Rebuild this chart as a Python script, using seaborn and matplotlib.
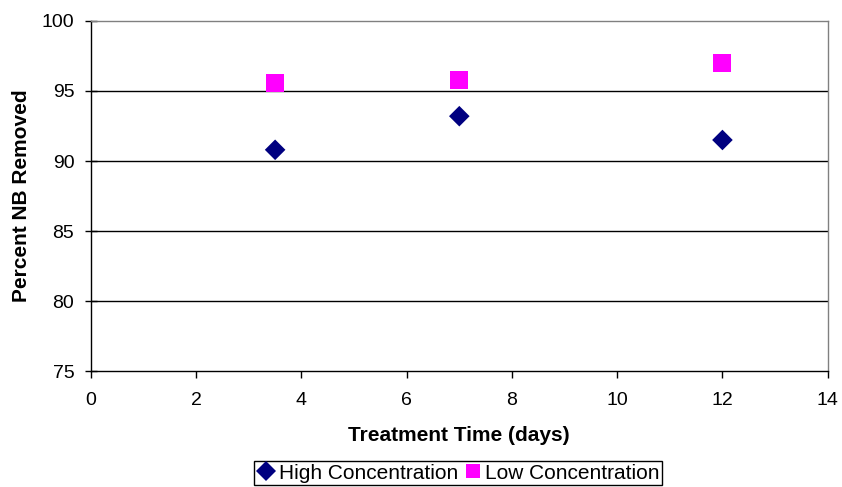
import pandas as pd
import seaborn as sns
import matplotlib.pyplot as plt

sns.set_style("white")
plt.rcParams["font.family"] = ["Liberation Sans", "DejaVu Sans"]
plt.rcParams["text.color"] = "black"
plt.rcParams["axes.labelcolor"] = "black"
plt.rcParams["xtick.color"] = "black"
plt.rcParams["ytick.color"] = "black"

# data
days = [3.5, 7, 12]
high_conc = [90.8, 93.2, 91.5]
low_conc = [95.6, 95.8, 97.0]

df = pd.DataFrame({
    "days": days * 2,
    "removed": high_conc + low_conc,
    "series": ["High Concentration"] * 3 + ["Low Concentration"] * 3,
})

fig = plt.figure(figsize=(8.42, 4.87), dpi=100)
ax = fig.add_axes([0.108, 0.238, 0.875, 0.719])

sns.scatterplot(data=df, x="days", y="removed", hue="series", style="series",
                palette={"High Concentration": "#000080", "Low Concentration": "#FF00FF"},
                markers={"High Concentration": "D", "Low Concentration": "s"},
                s=150, linewidth=0, ax=ax, zorder=3)
# diamonds a little smaller than squares
coll = ax.collections[0]
coll.set_sizes([110 if m == "High Concentration" else 170 for m in df["series"]])

ax.set_xlim(0, 14)
ax.set_ylim(75, 100)
ax.set_xticks(range(0, 15, 2))
ax.set_yticks(range(75, 101, 5))
for y in [80, 85, 90, 95]:
    ax.axhline(y, color="black", linewidth=1, zorder=1)

for side in ["top", "right"]:
    ax.spines[side].set_color("#808080")
for side in ["left", "bottom"]:
    ax.spines[side].set_color("black")
for sp in ax.spines.values():
    sp.set_linewidth(1)

ax.tick_params(axis="x", direction="out", length=5, width=1, labelsize=14, pad=10)
ax.tick_params(axis="y", direction="inout", length=8, width=1, labelsize=14, pad=8)
ax.xaxis.set_ticks_position("bottom")
ax.yaxis.set_ticks_position("left")

ax.set_xlabel("Treatment Time (days)", fontsize=15, fontweight="bold", labelpad=12)
ax.set_ylabel("Percent NB Removed", fontsize=15, fontweight="bold", labelpad=8)

handles, labels = ax.get_legend_handles_labels()
leg = ax.legend(handles, labels, loc="upper center", bbox_to_anchor=(0.498, -0.258),
                ncol=2, fontsize=15, frameon=True, fancybox=False, framealpha=1,
                edgecolor="black", borderpad=0.1, borderaxespad=0, handletextpad=0.1,
                columnspacing=0.2, handlelength=1.0, markerscale=0.85)
leg.get_frame().set_linewidth(1)

fig.savefig("out.png", dpi=100)
